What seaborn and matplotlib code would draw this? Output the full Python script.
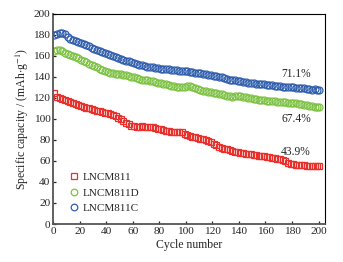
import numpy as np
import pandas as pd
import matplotlib
matplotlib.use('Agg')
import matplotlib.pyplot as plt
import seaborn as sns

sns.set_style('ticks')
plt.rcParams['font.family'] = ['Liberation Serif', 'DejaVu Serif']
plt.rcParams['mathtext.fontset'] = 'stix'

# cycle numbers (every other cycle, plus the last one)
cycles = list(range(1, 200, 2)) + [200]

# LNCM811 (red squares)
cap_811 = [125, 121, 120, 119, 118, 117, 116, 115, 114, 113,
           112, 111, 110.5, 110, 109.5, 108.5, 108, 107.5, 107, 106,
           105.5, 104.5, 103.5, 102.5, 101, 99.5, 98, 96.5, 95, 93.5,
           93, 92.5, 92.5, 93, 92.5, 92, 92.5, 92.5, 91, 90.5,
           90, 89.5, 89, 88.5, 88, 87.5, 87.5, 88, 87.5, 86,
           85, 84, 83, 82.5, 82, 81, 80.5, 80, 79, 78,
           76.5, 75, 73.5, 72.5, 71.5, 71, 70, 69.5, 69, 68.5,
           68, 67.5, 67, 66.5, 66.5, 66, 65.5, 65, 65, 64.5,
           64, 63.5, 63, 62.5, 62, 61.5, 60.5, 59.5, 58.5, 57.5,
           57, 56.5, 56.5, 56, 56, 55.5, 55.5, 55, 55.5, 55,
           55]

# LNCM811D (green circles)
cap_811d = [165, 166, 165.5, 164.5, 163, 162, 161, 160, 159, 158,
            156.5, 155, 154, 152.5, 151.5, 150, 149, 147.5, 146.5, 145.5,
            144.5, 144, 143.5, 143, 143, 142.5, 142, 141.5, 141, 140,
            139.5, 139, 138, 137.5, 137, 137, 136.5, 136, 135, 134.5,
            134, 133.5, 133, 132, 131.5, 131, 130.5, 130.5, 130, 130.5,
            131, 131, 130.5, 129.5, 128.5, 128, 127, 126.5, 126, 125.5,
            125, 124.5, 124, 123.5, 122.5, 122, 121.5, 121, 121.5, 122,
            121.5, 121, 120.5, 120, 119.5, 119, 119, 118.5, 118.5, 118,
            117.5, 117.5, 117, 117, 116.5, 116.5, 116, 116, 115.5, 115.5,
            115.5, 115, 114.5, 114, 113.5, 113, 112.5, 112, 111.5, 111,
            111]

# LNCM811C (blue circles)
cap_811c = [180, 181, 181.5, 182, 180.5, 178, 176.5, 175.5, 174, 173,
            172, 171, 170, 169, 168, 167, 166, 165, 164, 163,
            162, 161, 160, 159, 158, 157.5, 156.5, 155.5, 155, 154,
            153.5, 152.5, 151.5, 151, 150, 149.5, 149, 149, 148.5, 148.5,
            148, 148, 147.5, 147.5, 147, 147, 146.5, 146, 146, 145.5,
            145.5, 145, 145, 144, 144, 143.5, 143, 142.5, 142, 141.5,
            141, 140.5, 140, 139.5, 139, 138, 137.5, 137, 137, 136.5,
            136, 135.5, 135, 134.5, 134, 134, 133.5, 133.5, 133, 133,
            132.5, 132, 132, 131.5, 131, 131, 130.5, 130.5, 130, 130,
            130, 129.5, 129.5, 129, 129, 128.5, 128.5, 128, 128.5, 128,
            128]

labels = ['LNCM811', 'LNCM811D', 'LNCM811C']
colors = ['#e8302c', '#7cc242', '#2f5ead']
markers = ['s', 'o', 'o']
retention = ['43.9%', '67.4%', '71.1%']
ret_pos = [(183, 68.5), (183, 99.5), (183, 142.5)]

fig = plt.figure(figsize=(3.43, 2.62), dpi=100)
ax = fig.add_axes([0.155, 0.145, 0.793, 0.802])

for cap, lab, col, mk in zip([cap_811, cap_811d, cap_811c], labels, colors, markers):
    df = pd.DataFrame({'cycle': cycles, 'cap': cap})
    sns.lineplot(data=df, x='cycle', y='cap', ax=ax, linestyle='', marker=mk,
                 markersize=5, markerfacecolor='none', markeredgecolor=col,
                 markeredgewidth=0.9, color=col, label=lab)

for txt, (tx, ty) in zip(retention, ret_pos):
    ax.text(tx, ty, txt, ha='center', va='center', fontsize=8.3)

ax.set_xlim(0, 205)
ax.set_ylim(0, 200)
ax.set_xticks(range(0, 201, 20))
ax.set_yticks(range(0, 201, 20))
ax.tick_params(direction='in', length=2.5, width=0.9, labelsize=8.2, pad=2,
               top=False, right=False)
for s in ['left', 'bottom']:
    ax.spines[s].set_color('#555555')
    ax.spines[s].set_linewidth(1.3)
for s in ['top', 'right']:
    ax.spines[s].set_color('black')
    ax.spines[s].set_linewidth(0.8)

ax.set_xlabel('Cycle number', fontsize=8.5, labelpad=2)
ax.set_ylabel('Specific capacity / (mAh$\\cdot$g$^{-1}$)', fontsize=8.5, labelpad=2)

leg = ax.legend(loc='lower left', bbox_to_anchor=(0.045, 0.032), frameon=False,
                fontsize=8, handlelength=0.8, handletextpad=0.4,
                labelspacing=0.5, borderaxespad=0, markerscale=0.95)

fig.savefig('out.png', dpi=100)
